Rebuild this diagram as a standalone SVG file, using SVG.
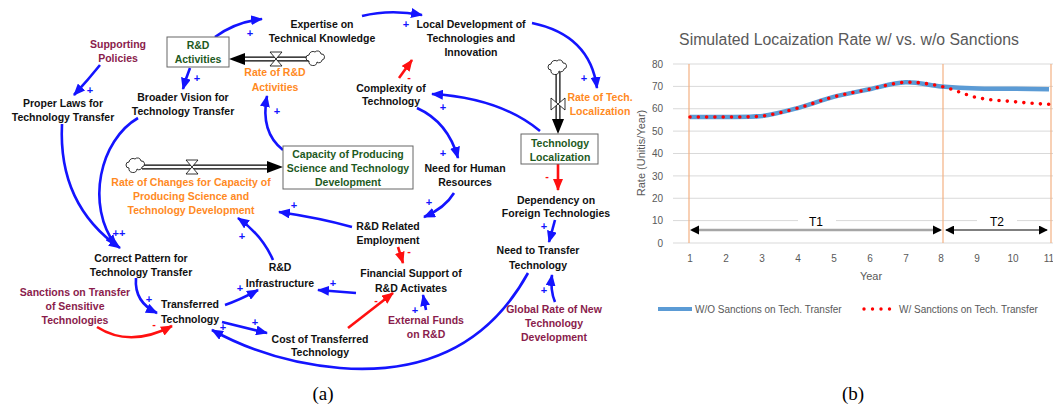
<svg xmlns="http://www.w3.org/2000/svg" width="1053" height="408" viewBox="0 0 1053 408">
<defs>
<style>
.t{font-family:"Liberation Sans",Arial,sans-serif;font-size:10.5px;font-weight:bold;text-anchor:middle;fill:#111}
.m{fill:#8a1c4c}
.o{fill:#ff8a1f}
.g{fill:#1e5a1e}
.box{fill:#fff;stroke:#666;stroke-width:1}
.b{fill:none;stroke:#1414ff;stroke-width:2.6;marker-end:url(#ab)}
.r{fill:none;stroke:#ff1010;stroke-width:2.6;marker-end:url(#ar)}
.p{font-family:"Liberation Sans",Arial,sans-serif;font-size:11px;font-weight:bold;text-anchor:middle;fill:#1414ff}
.n{font-family:"Liberation Sans",Arial,sans-serif;font-size:11px;font-weight:bold;text-anchor:middle;fill:#ff1010}
.pipeO{stroke:#000;stroke-width:5;fill:none}
.pipeI{stroke:#fff;stroke-width:2.6;fill:none}
.valve{fill:#fff;stroke:#000;stroke-width:0.8}
.cloud{fill:#fff;stroke:#000;stroke-width:0.8}
.c{font-family:"Liberation Sans",Arial,sans-serif;fill:#595959}
.grid{stroke:#d9d9d9;stroke-width:1}
.vl{stroke:#f4b183;stroke-width:1.2}
.cap{font-family:"Liberation Serif","Times New Roman",serif;font-size:19px;text-anchor:middle;fill:#000}
</style>
<marker id="ab" viewBox="0 0 12 10" refX="11" refY="5" markerWidth="12" markerHeight="10" markerUnits="userSpaceOnUse" orient="auto"><path d="M0,0 L12,5 L0,10 z" fill="#1414ff"/></marker>
<marker id="ar" viewBox="0 0 12 10" refX="11" refY="5" markerWidth="12" markerHeight="10" markerUnits="userSpaceOnUse" orient="auto"><path d="M0,0 L12,5 L0,10 z" fill="#ff1010"/></marker>
<marker id="ak" viewBox="0 0 10 10" refX="9" refY="5" markerWidth="9" markerHeight="9" markerUnits="userSpaceOnUse" orient="auto-start-reverse"><path d="M0,0 L10,5 L0,10 z" fill="#000"/></marker>
</defs>
<rect width="1053" height="408" fill="#fff"/>

<!-- connectors -->
<g id="connectors">
<path class="b" d="M100,65 Q88,80 74,95"/>
<path class="b" d="M190,68 Q186,78 183,89"/>
<path class="b" d="M215,37 Q235,22 262,19"/>
<path class="b" d="M362,16 Q390,9 422,15"/>
<path class="b" d="M532,23 Q590,35 597,88"/>
<path class="r" d="M399,78 L412,60"/>
<path class="b" d="M540,131 Q500,98 432,94"/>
<path class="b" d="M417,108 Q448,122 458,158"/>
<path class="b" d="M454,193 Q445,208 424,217"/>
<path class="b" d="M352,227 Q320,218 279,212"/>
<path class="r" d="M398,247 L403,263"/>
<path class="b" d="M283,150 Q260,132 267,96"/>
<path class="b" d="M62,124 Q58,205 120,248"/>
<path class="b" d="M138,118 C100,140 85,205 116,246"/>
<path class="b" d="M136,278 Q134,302 157,313"/>
<path class="r" d="M97,327 Q130,348 172,326"/>
<path class="b" d="M225,305 Q240,300 258,290"/>
<path class="b" d="M222,322 L267,333"/>
<path class="r" d="M348,328 L393,293"/>
<path class="b" d="M356,293 L318,290"/>
<path class="b" d="M426,310 L423,295"/>
<path class="b" d="M273,260 Q262,235 238,218"/>
<path class="r" d="M558,164 L558,190"/>
<path class="b" d="M555,220 L549,242"/>
<path class="b" d="M555,302 Q550,290 552,275"/>
<path class="b" d="M528,273 Q470,378 340,368 Q270,362 212,330"/>
</g>

<!-- flows -->
<g id="flow-rd">
<path class="pipeO" d="M244,59 L309,59"/><path class="pipeI" d="M243,59 L310,59"/>
<polygon points="229,59 245,53 245,65" fill="#000"/>
<path class="valve" d="M270,52 L282,52 L276,59 Z M270,66 L282,66 L276,59 Z"/>
<path class="cloud" d="M309,61 a3,3 0 0 1 0,-6 a4,4 0 0 1 6,-3 a3.5,3.5 0 0 1 6,2 a3,3 0 0 1 1,6 a3,3 0 0 1 -5,2 a3,3 0 0 1 -8,-1 z"/>
</g>
<g id="flow-tl">
<path class="pipeO" d="M558,72 L558,121"/><path class="pipeI" d="M558,71 L558,122"/>
<polygon points="558,134 552,119 564,119" fill="#000"/>
<path class="valve" d="M551,98 L551,110 L558,104 Z M565,98 L565,110 L558,104 Z"/>
<path class="cloud" d="M551,70 a3,3 0 0 1 0,-6 a4,4 0 0 1 6,-3 a3.5,3.5 0 0 1 6,2 a3,3 0 0 1 1,6 a3,3 0 0 1 -5,2 a3,3 0 0 1 -8,-1 z"/>
</g>
<g id="flow-cap">
<path class="pipeO" d="M142,167 L268,167"/><path class="pipeI" d="M141,167 L269,167"/>
<polygon points="283,167 267,161 267,173" fill="#000"/>
<path class="valve" d="M186,160 L198,160 L192,167 Z M186,174 L198,174 L192,167 Z"/>
<path class="cloud" d="M129,168 a3,3 0 0 1 0,-6 a4,4 0 0 1 6,-3 a3.5,3.5 0 0 1 6,2 a3,3 0 0 1 1,6 a3,3 0 0 1 -5,2 a3,3 0 0 1 -8,-1 z"/>
</g>

<!-- nodes -->
<g id="supporting-policies"><text class="t m" x="118" y="48">Supporting</text><text class="t m" x="118" y="62">Policies</text></g>
<g id="rd-activities"><rect class="box" x="167" y="37" width="62" height="30"/><text class="t g" x="198" y="49">R&amp;D</text><text class="t g" x="198" y="63">Activities</text></g>
<g id="proper-laws"><text class="t" x="63" y="107">Proper Laws for</text><text class="t" x="63" y="121">Technology Transfer</text></g>
<g id="broader-vision"><text class="t" x="183" y="101">Broader Vision for</text><text class="t" x="183" y="115">Technology Transfer</text></g>
<g id="expertise"><text class="t" x="322" y="28">Expertise on</text><text class="t" x="322" y="42">Technical Knowledge</text></g>
<g id="rate-rd"><text class="t o" x="275" y="76">Rate of R&amp;D</text><text class="t o" x="275" y="91">Activities</text></g>
<g id="local-dev"><text class="t" x="471" y="28">Local Development of</text><text class="t" x="471" y="42">Technologies and</text><text class="t" x="471" y="56">Innovation</text></g>
<g id="complexity"><text class="t" x="391" y="92">Complexity of</text><text class="t" x="391" y="105">Technology</text></g>
<g id="rate-tech-loc"><text class="t o" x="600" y="101">Rate of Tech.</text><text class="t o" x="600" y="115">Localization</text></g>
<g id="tech-loc"><rect class="box" x="521" y="134" width="77" height="30"/><text class="t g" x="560" y="147">Technology</text><text class="t g" x="560" y="161">Localization</text></g>
<g id="capacity"><rect class="box" x="283" y="146" width="130" height="43"/><text class="t g" x="348" y="158">Capacity of Producing</text><text class="t g" x="348" y="172">Science and Technology</text><text class="t g" x="348" y="186">Development</text></g>
<g id="rate-changes"><text class="t o" x="191" y="186">Rate of Changes for Capacity of</text><text class="t o" x="191" y="200">Producing Science and</text><text class="t o" x="191" y="214">Technology Development</text></g>
<g id="need-hr"><text class="t" x="465" y="172">Need for Human</text><text class="t" x="465" y="186">Resources</text></g>
<g id="rd-employment"><text class="t" x="388" y="230">R&amp;D Related</text><text class="t" x="388" y="244">Employment</text></g>
<g id="dependency"><text class="t" x="556" y="204">Dependency on</text><text class="t" x="556" y="217">Foreign Technologies</text></g>
<g id="need-transfer"><text class="t" x="538" y="254">Need to Transfer</text><text class="t" x="538" y="269">Technology</text></g>
<g id="correct-pattern"><text class="t" x="141" y="262">Correct Pattern for</text><text class="t" x="141" y="276">Technology Transfer</text></g>
<g id="rd-infra"><text class="t" x="280" y="271">R&amp;D</text><text class="t" x="280" y="287">Infrastructure</text></g>
<g id="financial"><text class="t" x="411" y="277">Financial Support of</text><text class="t" x="411" y="292">R&amp;D Activates</text></g>
<g id="sanctions"><text class="t m" x="75" y="296">Sanctions on Transfer</text><text class="t m" x="75" y="310">of Sensitive</text><text class="t m" x="75" y="324">Technologies</text></g>
<g id="transferred"><text class="t" x="190" y="308">Transferred</text><text class="t" x="190" y="323">Technology</text></g>
<g id="external-funds"><text class="t m" x="426" y="324">External Funds</text><text class="t m" x="426" y="338">on R&amp;D</text></g>
<g id="cost"><text class="t" x="320" y="343">Cost of Transferred</text><text class="t" x="320" y="356">Technology</text></g>
<g id="global-rate"><text class="t m" x="554" y="313">Global Rate of New</text><text class="t m" x="554" y="327">Technology</text><text class="t m" x="554" y="341">Development</text></g>

<!-- polarities -->
<g id="polarities">
<text class="p" x="90" y="94">+</text><text class="p" x="197" y="82">+</text><text class="p" x="250" y="37">+</text>
<text class="p" x="406" y="28">+</text><text class="p" x="584" y="82">+</text><text class="p" x="443" y="111">+</text>
<text class="p" x="277" y="115">+</text><text class="p" x="443" y="157">+</text><text class="p" x="429" y="206">+</text>
<text class="p" x="294" y="209">+</text><text class="p" x="242" y="240">+</text><text class="p" x="119" y="237">++</text>
<text class="p" x="149" y="303">+</text><text class="p" x="240" y="292">+</text><text class="p" x="255" y="326">+</text>
<text class="p" x="333" y="287">+</text><text class="p" x="223" y="331">+</text><text class="p" x="415" y="314">+</text>
<text class="p" x="544" y="294">+</text><text class="p" x="544" y="230">+</text>
<text class="n" x="409" y="81">-</text><text class="n" x="409" y="255">-</text><text class="n" x="547" y="180">-</text>
<text class="n" x="376" y="304">-</text><text class="n" x="154" y="328">-</text>
</g>

<text class="cap" x="323" y="400">(a)</text>

<!-- chart -->
<g id="chart">
<text class="c" x="849" y="45" font-size="15.8" text-anchor="middle">Simulated Locaization Rate w/ vs. w/o Sanctions</text>
<g class="grid">
<line x1="673" y1="64" x2="1053" y2="64"/><line x1="673" y1="86.4" x2="1053" y2="86.4"/>
<line x1="673" y1="108.75" x2="1053" y2="108.75"/><line x1="673" y1="131.1" x2="1053" y2="131.1"/>
<line x1="673" y1="153.5" x2="1053" y2="153.5"/><line x1="673" y1="175.9" x2="1053" y2="175.9"/>
<line x1="673" y1="198.25" x2="1053" y2="198.25"/><line x1="673" y1="220.6" x2="1053" y2="220.6"/>
<line x1="673" y1="243" x2="1053" y2="243"/>
</g>
<g class="c" font-size="10" text-anchor="end">
<text x="663" y="67.5">80</text><text x="663" y="90">70</text><text x="663" y="112">60</text><text x="663" y="134.5">50</text>
<text x="663" y="157">40</text><text x="663" y="179.5">30</text><text x="663" y="201.5">20</text><text x="663" y="224">10</text><text x="663" y="246.5">0</text>
</g>
<g class="c" font-size="10" text-anchor="middle">
<text x="690" y="262">1</text><text x="726" y="262">2</text><text x="762" y="262">3</text><text x="798" y="262">4</text>
<text x="834" y="262">5</text><text x="870" y="262">6</text><text x="906" y="262">7</text><text x="941" y="262">8</text>
<text x="977" y="262">9</text><text x="1013" y="262">10</text><text x="1049" y="262">11</text>
</g>
<text class="c" x="871" y="280" font-size="11" text-anchor="middle">Year</text>
<text class="c" font-size="11" text-anchor="middle" transform="translate(645,153) rotate(-90)">Rate (Unitis/Year)</text>
<line class="vl" x1="689" y1="64" x2="689" y2="243"/><line class="vl" x1="943" y1="64" x2="943" y2="243"/><line class="vl" x1="1051" y1="64" x2="1051" y2="243"/>
<path d="M690,117 C701.97,117 713.93,117.1 725.9,117 C737.87,116.9 749.83,117.2 761.8,116.1 C773.77,114.62 785.73,111.3 797.7,108.1 C809.67,104.9 821.63,100.03 833.6,96.9 C845.57,93.77 857.53,91.73 869.5,89.3 C881.47,86.87 893.43,82.78 905.4,82.3 C917.37,81.82 929.33,85.35 941.3,86.4 C953.27,87.45 965.23,88.2 977.2,88.6 C989.17,89 1001.13,88.68 1013.1,88.8 C1025.07,88.92 1037.03,89.22 1049,89.3" fill="none" stroke="#5b9bd5" stroke-width="4.5"/>
<path d="M690,117 C701.97,117 713.93,117.1 725.9,117 C737.87,116.9 749.83,117.2 761.8,116.1 C773.77,114.62 785.73,111.3 797.7,108.1 C809.67,104.9 821.63,100.03 833.6,96.9 C845.57,93.77 857.53,91.73 869.5,89.3 C881.47,86.87 893.43,82.78 905.4,82.3 C917.37,81.82 929.33,83.85 941.3,86.4 C953.27,88.95 965.23,95.07 977.2,97.6 C989.17,100.13 1001.13,100.48 1013.1,101.6 C1025.07,102.72 1037.03,103.85 1049,104.3" fill="none" stroke="#ff0000" stroke-width="3.6" stroke-dasharray="0 8.3" stroke-linecap="round"/>
<rect x="798" y="214" width="38" height="14" fill="#fff"/>
<rect x="977" y="214" width="40" height="14" fill="#fff"/>
<line x1="692" y1="230" x2="940" y2="230" stroke="#a6a6a6" stroke-width="2.5"/>
<path d="M690,230 L699,225.5 L699,234.5 Z M942,230 L933,225.5 L933,234.5 Z" fill="#000"/>
<line x1="946" y1="230" x2="1047" y2="230" stroke="#000" stroke-width="1" marker-start="url(#ak)" marker-end="url(#ak)"/>
<text x="816" y="226" font-family="Liberation Sans,Arial,sans-serif" font-size="12" text-anchor="middle" fill="#000">T1</text>
<text x="997" y="226" font-family="Liberation Sans,Arial,sans-serif" font-size="12" text-anchor="middle" fill="#000">T2</text>
<line x1="658" y1="309" x2="692" y2="309" stroke="#5b9bd5" stroke-width="4"/>
<text class="c" x="695" y="313" font-size="10">W/O Sanctions on Tech. Transfer</text>
<g fill="#ff0000"><circle cx="864" cy="309" r="1.7"/><circle cx="872.5" cy="309" r="1.7"/><circle cx="881" cy="309" r="1.7"/><circle cx="889.5" cy="309" r="1.7"/></g>
<text class="c" x="899" y="313" font-size="10">W/ Sanctions on Tech. Transfer</text>
</g>
<text class="cap" x="853" y="400">(b)</text>
</svg>
